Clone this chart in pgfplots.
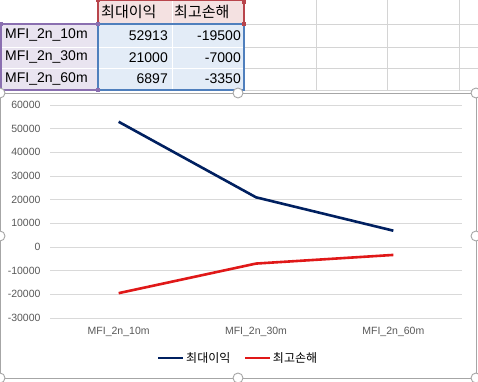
\documentclass[border=0pt]{standalone}
\usepackage{fontspec}
\setmainfont{Liberation Sans}
\newfontfamily\kr{Noto Sans CJK KR}
\usepackage{pgfplots}
\pgfplotsset{compat=1.18}
\definecolor{navy}{HTML}{002060}
\definecolor{lred}{HTML}{E01818}
\definecolor{gridc}{HTML}{D9D9D9}
\definecolor{tickc}{HTML}{595959}
\definecolor{cellg}{HTML}{D4D4D4}
\definecolor{hdrfill}{HTML}{F4E1E1}
\definecolor{hdrline}{HTML}{B8454C}
\definecolor{rowfill}{HTML}{E9E4F0}
\definecolor{rowline}{HTML}{8A6FB0}
\definecolor{datfill}{HTML}{E3ECF7}
\definecolor{datline}{HTML}{4F7FBD}
\begin{document}
\begin{tikzpicture}[x=1pt,y=1pt]
\useasboundingbox (0,0) rectangle (478,381);
\fill[white] (0,0) rectangle (478,381);
% spreadsheet grid
\foreach \x in {98,172,244,316,387,459} {\draw[cellg,line width=0.8pt] (\x,291) -- (\x,381);}
\foreach \y in {357,334,313,291} {\draw[cellg,line width=0.8pt] (0,\y) -- (478,\y);}
% selection fills
\fill[hdrfill] (98,357) rectangle (244,381);
\fill[rowfill] (0,291) rectangle (98,357);
\fill[datfill] (98,291) rectangle (244,357);
\foreach \y in {334,313} {\draw[white,line width=0.8pt] (0,\y) -- (244,\y);}
\draw[white,line width=0.8pt] (172,291) -- (172,381);
\draw[hdrline,line width=1.6pt] (98,357) rectangle (244,381);
\draw[rowline,line width=1.6pt] (1,291) rectangle (98,357);
\draw[datline,line width=1.6pt] (98,291) rectangle (244,357);
\fill[hdrline] (96,379) rectangle (100,381);
\fill[hdrline] (242,355) rectangle (246,359);
\fill[hdrline] (242,377) rectangle (246,381);
\fill[rowline] (96,355) rectangle (100,359);
\fill[rowline] (0,355) rectangle (3,359);
\fill[rowline] (96,289) rectangle (100,293);
% table text
\node[anchor=west,font=\kr\fontsize{15}{17}\selectfont,inner sep=0pt] at (101,369) {최대이익};
\node[anchor=west,font=\kr\fontsize{15}{17}\selectfont,inner sep=0pt] at (174,369) {최고손해};
\node[anchor=west,font=\fontsize{14}{16}\selectfont,inner sep=0pt] at (5,345.5) {MFI\_2n\_10m};
\node[anchor=west,font=\fontsize{14}{16}\selectfont,inner sep=0pt] at (5,323.5) {MFI\_2n\_30m};
\node[anchor=west,font=\fontsize{14}{16}\selectfont,inner sep=0pt] at (5,302) {MFI\_2n\_60m};
\node[anchor=east,font=\fontsize{14}{16}\selectfont,inner sep=0pt] at (168,345.5) {52913};
\node[anchor=east,font=\fontsize{14}{16}\selectfont,inner sep=0pt] at (168,323.5) {21000};
\node[anchor=east,font=\fontsize{14}{16}\selectfont,inner sep=0pt] at (168,302) {6897};
\node[anchor=east,font=\fontsize{14}{16}\selectfont,inner sep=0pt] at (241,345.5) {-19500};
\node[anchor=east,font=\fontsize{14}{16}\selectfont,inner sep=0pt] at (241,323.5) {-7000};
\node[anchor=east,font=\fontsize{14}{16}\selectfont,inner sep=0pt] at (241,302) {-3350};
% chart frame
\fill[white] (0,3) rectangle (476,288);
\draw[gray!70,line width=0.8pt] (0,3) rectangle (476,288);
\begin{axis}[
  at={(50pt,63pt)}, anchor=south west,
  scale only axis, width=412pt, height=213pt,
  xmin=-0.5, xmax=2.5, ymin=-30000, ymax=60000,
  xtick={0,1,2}, xticklabels={MFI\_2n\_10m,MFI\_2n\_30m,MFI\_2n\_60m},
  ytick={-30000,-20000,...,60000},
  axis line style={draw=none}, major tick length=0pt,
  ymajorgrids, grid style={gridc,line width=0.8pt},
  scaled y ticks=false,
  yticklabel={\pgfmathprintnumber[fixed,1000 sep={},assume math mode=true]{\tick}},
  yticklabel style={font=\fontsize{10.5}{12}\selectfont,text=tickc,xshift=-6pt},
  xticklabel style={font=\fontsize{10.5}{12}\selectfont,text=tickc,yshift=-6pt},
  legend columns=2,
  legend style={at={(0.456,0)},anchor=center,yshift=-40pt,draw=none,fill=none,
    font=\kr\fontsize{12}{14}\selectfont,
    /tikz/every odd column/.append style={column sep=0pt},
    /tikz/every even column/.append style={column sep=12pt},
    nodes={inner xsep=1.5pt}},
  legend image code/.code={\draw[#1] (0pt,0pt) -- (25pt,0pt);},
]
\addplot[navy,line width=2.6pt] coordinates {(0,52913) (1,21000) (2,6897)};
\addlegendentry{최대이익}
\addplot[lred,line width=2.6pt] coordinates {(0,-19500) (1,-7000) (2,-3350)};
\addlegendentry{최고손해}
\end{axis}
% handles
\foreach \p in {(0,288),(238,288),(476,288),(0,145),(476,145),(0,3),(238,3),(476,3)}
  {\draw[gray!70,fill=white,line width=0.9pt] \p circle (5);}
\end{tikzpicture}
\end{document}
